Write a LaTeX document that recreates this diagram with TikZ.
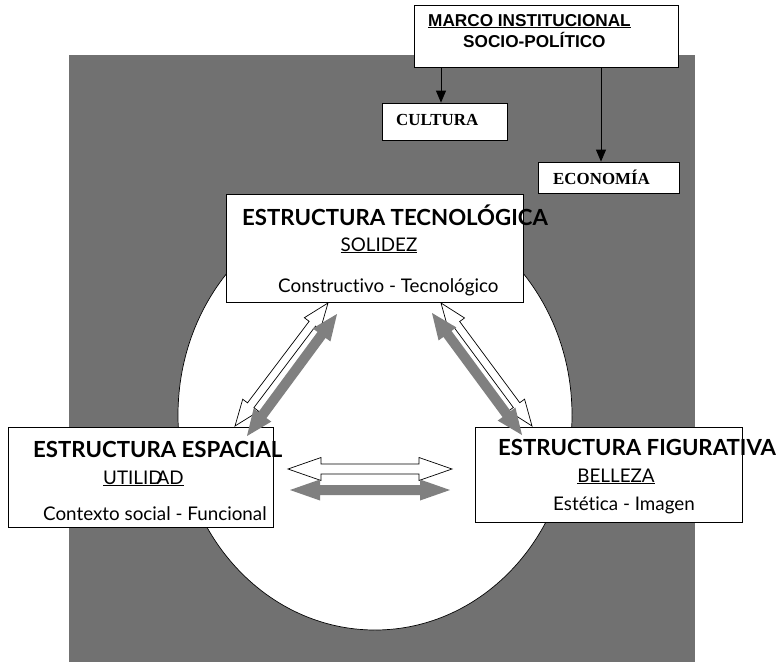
\documentclass[tikz,border=0pt]{standalone}
\usepackage{fontspec}
\setmainfont{Lato}[Ligatures=NoCommon]
\newfontfamily\arialfont{Liberation Sans}
\newfontfamily\timesfont{Liberation Serif}
\usetikzlibrary{calc,arrows.meta}
\definecolor{bggray}{RGB}{113,113,113}
\definecolor{arrgray}{RGB}{128,128,128}
\newcommand\blockarr[6]{%
  \path[#1] (#2) -- ($(#2)!#6!(#3)!#5!90:(#3)$) -- ($(#2)!#6!(#3)!#4!90:(#3)$)
   -- ($(#3)!#6!(#2)!#4!-90:(#2)$) -- ($(#3)!#6!(#2)!#5!-90:(#2)$) -- (#3)
   -- ($(#3)!#6!(#2)!#5!90:(#2)$) -- ($(#3)!#6!(#2)!#4!90:(#2)$)
   -- ($(#2)!#6!(#3)!#4!-90:(#3)$) -- ($(#2)!#6!(#3)!#5!-90:(#3)$) -- cycle;}
\tikzset{
  box/.style={draw=black, line width=0.8pt, fill=white, inner sep=0pt},
  txt/.style={anchor=base west, inner sep=0pt},
  title/.style={txt, font=\fontsize{22.2}{23}\selectfont\bfseries},
  sub/.style={txt, font=\fontsize{18.8}{20}\selectfont},
  arialb/.style={txt, font=\fontsize{17.2}{18}\selectfont\arialfont\bfseries},
  timesb/.style={txt, font=\fontsize{16.9}{18}\selectfont\timesfont\bfseries},
  whitearr/.style={draw=black, line width=0.7pt, fill=white, line join=miter},
  grayarr/.style={fill=arrgray},
  tri/.style={-{Triangle[width=10pt,length=12pt]}, line width=0.8pt}
}
\begin{document}
\begin{tikzpicture}[x=1pt,y=-1pt]
\useasboundingbox (0,0) rectangle (781,662);
% background
\fill[bggray] (69,55) rectangle (695,662);
\draw[fill=white, line width=0.7pt] (375,415) ellipse [x radius=197, y radius=215];
% boxes
\node[box, minimum width=264pt, minimum height=62pt] (marco) at (546,36) {};
\node[box, minimum width=125pt, minimum height=37pt] (cultura) at (444.5,121.5) {};
\node[box, minimum width=141pt, minimum height=31pt] (economia) at (608.5,177.5) {};
\node[box, minimum width=297pt, minimum height=108pt] (tecno) at (374.5,248) {};
\node[box, minimum width=265pt, minimum height=100pt] (espacial) at (140.5,477) {};
\node[box, minimum width=267pt, minimum height=95pt] (figurativa) at (608.5,474.5) {};
% texts
\node[arialb] (t1) at (428,26) {\underline{MARCO INSTITUCIONAL}};
\node[arialb] (t2) at (463,47) {SOCIO-POLÍTICO};
\node[timesb] (t3) at (396,125) {CULTURA};
\node[timesb] (t4) at (553,184) {ECONOMÍA};
\node[title] (t5) at (242,225) {ESTRUCTURA TECNOLÓGICA};
\node[sub, anchor=base] (t6) at (379,251) {\underline{SOLIDEZ}};
\node[sub] (t7) at (278,292) {Constructivo - Tecnológico};
\node[title] (t8) at (33,457) {ESTRUCTURA ESPACIAL};
\node[sub] (t9) at (103,484) {\underline{UTILID\kern-6pt AD}};
\node[sub] (t10) at (43,520) {Contexto social - Funcional};
\node[title] (t11) at (498,455) {ESTRUCTURA FIGURATIVA};
\node[sub, anchor=base] (t12) at (616,482) {\underline{BELLEZA}};
\node[sub] (t13) at (553,510) {Estética - Imagen};
% thin arrows from marco
\coordinate (cx1) at (441,0);
\coordinate (cx2) at (601,0);
\draw[tri] (marco.south -| cx1) -- (cultura.north -| cx1);
\draw[tri] (marco.south -| cx2) -- (economia.north -| cx2);
% block arrows
\coordinate (lwA) at (328,303); \coordinate (lwB) at (235,426);
\coordinate (lgA) at (337,314); \coordinate (lgB) at (247,436);
\coordinate (rwA) at (441,303); \coordinate (rwB) at (532,426);
\coordinate (rgA) at (432,313); \coordinate (rgB) at (522,435);
\coordinate (hwA) at (288,469); \coordinate (hwB) at (452,469);
\coordinate (hgA) at (290,490); \coordinate (hgB) at (450,490);
\blockarr{whitearr}{lwA}{lwB}{4pt}{10pt}{26pt}
\blockarr{grayarr}{lgA}{lgB}{5pt}{11pt}{26pt}
\blockarr{whitearr}{rwA}{rwB}{4pt}{10pt}{26pt}
\blockarr{grayarr}{rgA}{rgB}{5pt}{11pt}{26pt}
\blockarr{whitearr}{hwA}{hwB}{5pt}{11.5pt}{33pt}
\blockarr{grayarr}{hgA}{hgB}{5pt}{10.5pt}{30pt}
\end{tikzpicture}
\end{document}
